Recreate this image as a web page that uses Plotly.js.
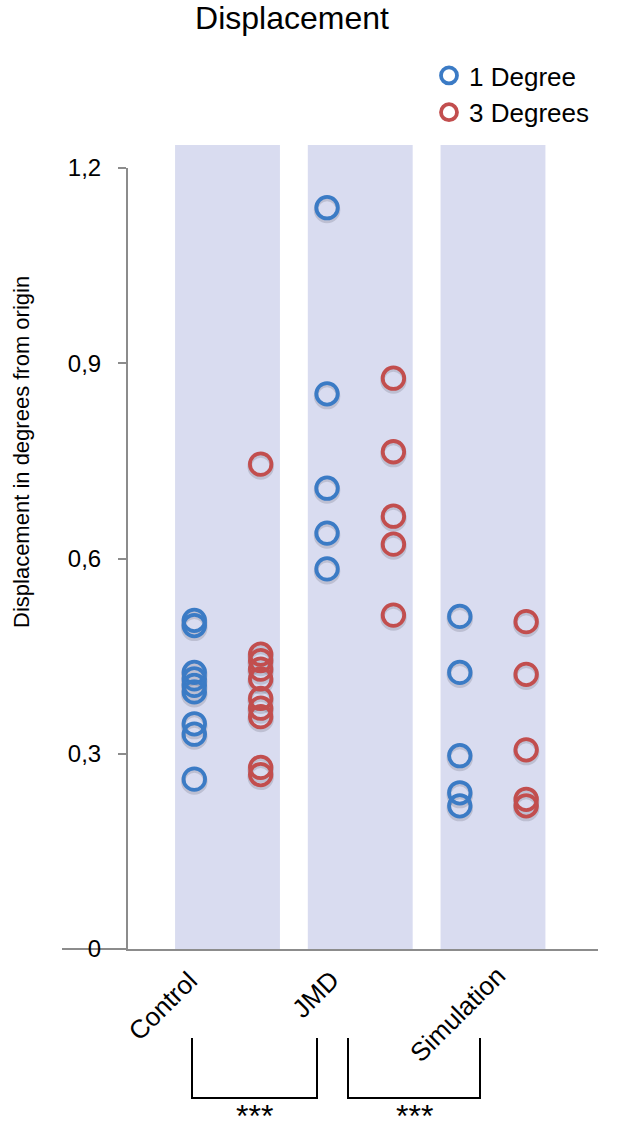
<!DOCTYPE html>
<html><head><meta charset="utf-8">
<script src="https://cdn.plot.ly/plotly-3.0.1.min.js"></script>
<style>html,body{margin:0;padding:0;background:#fff}#chart{width:630px;height:1148px}</style>
</head><body><div id="chart"></div><script>
// ---- data ----
const categories = ['Control', 'JMD', 'Simulation'];
const seriesNames = ['1 Degree', '3 Degrees'];
const control1 = [0.505, 0.497, 0.425, 0.415, 0.405, 0.395, 0.346, 0.330, 0.261];
const control3 = [0.745, 0.453, 0.443, 0.430, 0.415, 0.385, 0.370, 0.357, 0.279, 0.268];
const jmd1 = [1.139, 0.853, 0.708, 0.639, 0.584];
const jmd3 = [0.877, 0.764, 0.665, 0.622, 0.513];
const sim1 = [0.511, 0.425, 0.297, 0.240, 0.220];
const sim3 = [0.503, 0.422, 0.306, 0.230, 0.220];
const yTickVals = [0, 0.3, 0.6, 0.9, 1.2];
const yTickText = ['0', '0,3', '0,6', '0,9', '1,2'];
const significance = ['***', '***'];
const yTitle = 'Displacement in degrees from origin';
const chartTitle = 'Displacement';

// ---- build ----
const FONT = 'Liberation Sans, Arial, Helvetica, sans-serif';
const colors = ['#3b7bc5', '#c24e4e'];
const offsets = [-0.25, 0.25];
const groups = [[control1, control3], [jmd1, jmd3], [sim1, sim3]];

const shadowTraces = [];
const traces = seriesNames.map((name, s) => {
  const xs = [], ys = [];
  groups.forEach((g, i) => {
    g[s].forEach(v => { xs.push(i + 1 + offsets[s]); ys.push(v); });
  });
  shadowTraces.push({
    type: 'scatter', mode: 'markers', showlegend: false, x: xs, y: ys.map(v => v - 0.0035),
    marker: {symbol: 'circle-open', size: 22, color: 'rgba(60,60,80,0.18)', line: {width: 4.5, color: 'rgba(60,60,80,0.18)'}},
    cliponaxis: false, hoverinfo: 'skip'
  });
  return {
    type: 'scatter', mode: 'markers', name: name, x: xs, y: ys,
    marker: {symbol: 'circle-open', size: 21.5, color: colors[s], line: {width: 3.8, color: colors[s]}},
    cliponaxis: false, hoverinfo: 'skip'
  };
});

const px2x = p => (p - 128) / 470;
const px2y = p => (949 - p) / 781;

const shapes = categories.map((c, i) => ({
  type: 'rect', xref: 'x', yref: 'paper', x0: i + 1 - 0.395, x1: i + 1 + 0.395,
  y0: 0, y1: px2y(145), fillcolor: '#d9dcf0', line: {width: 0}, layer: 'below'
}));
shapes.push({type: 'line', xref: 'paper', yref: 'paper', x0: px2x(62), x1: 0, y0: 0, y1: 0,
  line: {color: '#8c8c8c', width: 2}, layer: 'below'});
const brackets = [[192, 317], [348, 480]];
brackets.forEach(b => {
  const a = px2x(b[0]), c = px2x(b[1]), t = px2y(1038), btm = px2y(1098);
  shapes.push({type: 'path', xref: 'paper', yref: 'paper',
    path: `M ${a},${t} L ${a},${btm} L ${c},${btm} L ${c},${t}`,
    line: {color: '#000', width: 2}});
});

const labelAnchors = [[206, 963], [348, 962], [514, 958]];
const annotations = categories.map((c, i) => ({
  text: c, xref: 'paper', yref: 'paper', x: px2x(labelAnchors[i][0]), y: px2y(labelAnchors[i][1]),
  xanchor: 'right', yanchor: 'top', textangle: -45, showarrow: false,
  font: {family: FONT, size: 26, color: '#000'}
}));
significance.forEach((s, i) => {
  annotations.push({text: s, xref: 'paper', yref: 'paper',
    x: px2x((brackets[i][0] + brackets[i][1]) / 2), y: px2y(1096),
    xanchor: 'center', yanchor: 'top', showarrow: false,
    font: {family: FONT, size: 32, color: '#000'}});
});
annotations.push({text: yTitle, xref: 'paper', yref: 'paper', x: px2x(21), y: px2y(452),
  xanchor: 'center', yanchor: 'middle', textangle: -90, showarrow: false,
  font: {family: FONT, size: 22, color: '#000'}});

const layout = {
  width: 630, height: 1148,
  margin: {l: 128, r: 32, t: 168, b: 199, pad: 0},
  paper_bgcolor: '#fff', plot_bgcolor: 'rgba(0,0,0,0)',
  separators: ',.',
  font: {family: FONT, color: '#000'},
  title: {text: chartTitle, font: {family: FONT, size: 32, color: '#000'},
    x: 0.4635, xanchor: 'center', xref: 'container', y: 0.9843, yanchor: 'middle', yref: 'container'},
  showlegend: true,
  legend: {x: px2x(429), y: px2y(52), xanchor: 'left', yanchor: 'top',
    font: {family: FONT, size: 26, color: '#000'}, bgcolor: 'rgba(0,0,0,0)', borderwidth: 0},
  xaxis: {range: [0.2505, 3.791], showline: true, linecolor: '#8c8c8c', linewidth: 2,
    showticklabels: false, ticks: '', showgrid: false, zeroline: false, fixedrange: true},
  yaxis: {range: [0, 1.2], tickvals: yTickVals, ticktext: yTickText, ticks: 'outside', ticklen: 8,
    tickwidth: 2, tickcolor: '#8c8c8c', showline: true, linecolor: '#8c8c8c', linewidth: 2,
    showgrid: false, zeroline: false, ticklabelstandoff: 12,
    tickfont: {family: FONT, size: 24, color: '#000'}, fixedrange: true},
  shapes: shapes,
  annotations: annotations
};

Plotly.newPlot('chart', shadowTraces.concat(traces), layout, {displayModeBar: false, staticPlot: true});
</script></body></html>
